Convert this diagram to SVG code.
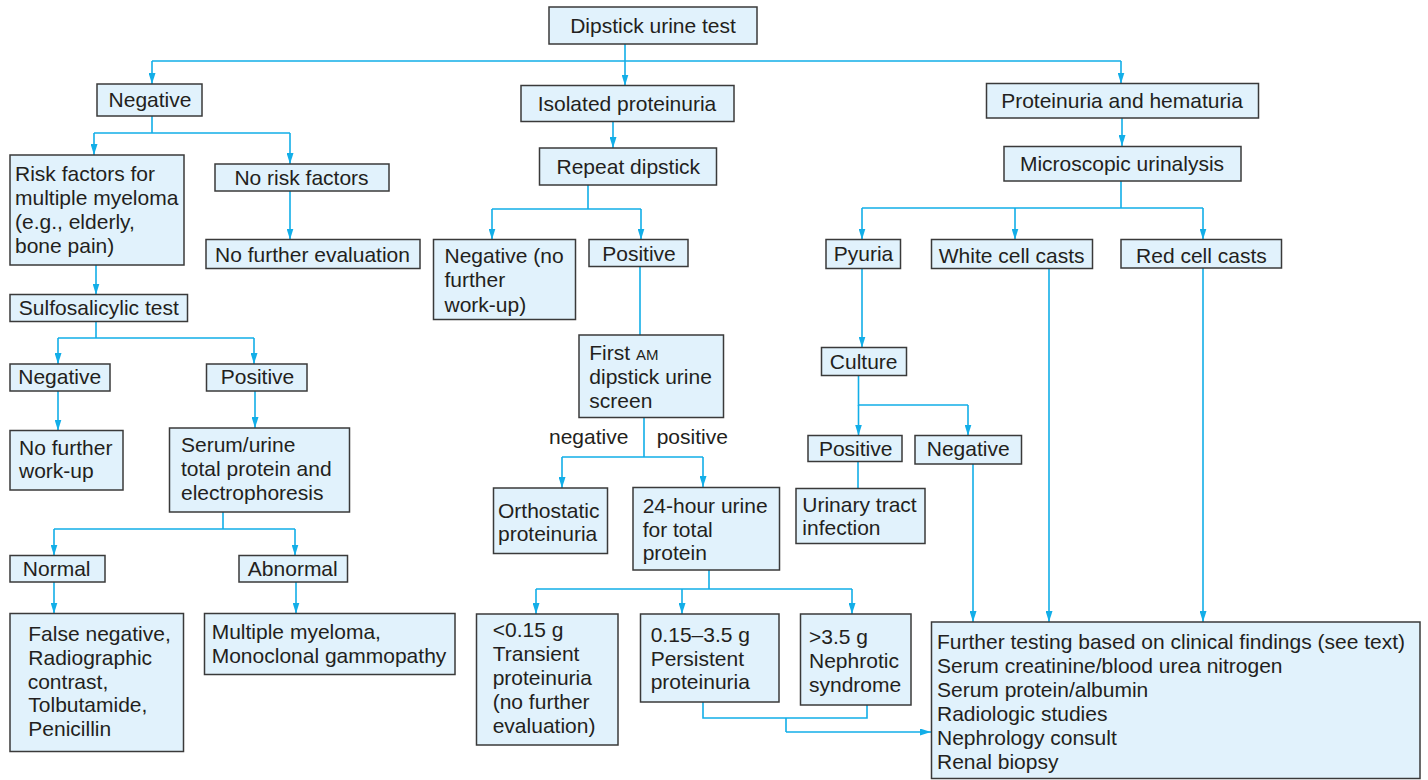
<svg xmlns="http://www.w3.org/2000/svg" width="1428" height="780" viewBox="0 0 1428 780">
<defs>
<marker id="ah" markerUnits="userSpaceOnUse" markerWidth="11" markerHeight="7" refX="11" refY="3.5" orient="auto">
<path d="M0,0 L11,3.5 L0,7 z" fill="#12aee8"/>
</marker>
<style>
.b rect{fill:#e1f2fc;stroke:#3a3a3a;stroke-width:1.5}
text{font-family:"Liberation Sans",Arial,sans-serif;font-size:21px;fill:#231f20}
.c{text-anchor:middle}
.k path{fill:none;stroke:#12aee8;stroke-width:1.6}
.k .a{marker-end:url(#ah)}
</style>
</defs>
<rect width="1428" height="780" fill="#ffffff"/>

<g class="k" id="connectors">
<path d="M625,44 V61 M152,61 H1121"/>
<path class="a" d="M152,61 V84"/>
<path class="a" d="M625,61 V85.5"/>
<path class="a" d="M1121,61 V83.5"/>
<path d="M152,116 V133 M94,133 H290"/>
<path class="a" d="M94,133 V155"/>
<path class="a" d="M290,133 V164"/>
<path class="a" d="M96,265 V294.5"/>
<path class="a" d="M290,191 V239.5"/>
<path d="M96,321 V338 M58,338 H254"/>
<path class="a" d="M58,338 V364"/>
<path class="a" d="M254,338 V364"/>
<path class="a" d="M58,391 V430.5"/>
<path class="a" d="M255,391 V428"/>
<path d="M223,512 V529 M54,529 H295"/>
<path class="a" d="M54,529 V555.5"/>
<path class="a" d="M295,529 V555.5"/>
<path class="a" d="M54,582 V613.5"/>
<path class="a" d="M296,582 V613.5"/>
<path class="a" d="M613,122 V148"/>
<path d="M588,185 V209 M492,209 H641"/>
<path class="a" d="M492,209 V239.5"/>
<path class="a" d="M641,209 V239.5"/>
<path d="M640,266 V335"/>
<path d="M644,418 V457 M562,457 H703"/>
<path class="a" d="M562,457 V488"/>
<path class="a" d="M703,457 V487"/>
<path d="M709,570 V589 M536,589 H852"/>
<path class="a" d="M536,589 V614"/>
<path class="a" d="M682,589 V614"/>
<path class="a" d="M852,589 V614"/>
<path d="M703,702 V718 H867 V705 M786,718 V732"/>
<path class="a" d="M786,732 H931"/>
<path class="a" d="M1122,118 V146"/>
<path d="M1121,181 V208 M862,208 H1203"/>
<path class="a" d="M862,208 V239.5"/>
<path class="a" d="M1015,208 V239.5"/>
<path class="a" d="M1203,208 V239.5"/>
<path class="a" d="M862,269 V347.5"/>
<path d="M858.5,375 V405 H968"/>
<path class="a" d="M858.5,405 V435.5"/>
<path class="a" d="M968,405 V435.5"/>
<path d="M858,461 V488.5"/>
<path class="a" d="M973,464 V622"/>
<path class="a" d="M1049,269 V622"/>
<path class="a" d="M1203,268 V622"/>
</g>

<g id="edge-labels">
<text x="549" y="444.3">negative</text>
<text x="656.7" y="444.3">positive</text>
</g>

<g class="b" id="n-dipstick"><rect x="549" y="7" width="208" height="37"/><text class="c" x="653" y="33">Dipstick urine test</text></g>
<g class="b" id="n-negative"><rect x="97" y="84" width="105" height="32"/><text class="c" x="150" y="107">Negative</text></g>
<g class="b" id="n-isolated"><rect x="521" y="85.5" width="213" height="36"/><text class="c" x="627" y="111">Isolated proteinuria</text></g>
<g class="b" id="n-prothem"><rect x="986.5" y="83.5" width="272" height="34.5"/><text class="c" x="1122" y="108">Proteinuria and hematuria</text></g>
<g class="b" id="n-risk"><rect x="10" y="155" width="174" height="110"/>
<text x="15" y="181">Risk factors for</text><text x="15" y="205">multiple myeloma</text><text x="15" y="229">(e.g., elderly,</text><text x="15" y="253">bone pain)</text></g>
<g class="b" id="n-norisk"><rect x="215" y="164" width="174" height="27"/><text class="c" x="301.5" y="185">No risk factors</text></g>
<g class="b" id="n-nofurthereval"><rect x="206" y="239.5" width="214" height="29"/><text class="c" x="312.5" y="262">No further evaluation</text></g>
<g class="b" id="n-repeat"><rect x="539.5" y="148" width="177" height="37"/><text class="c" x="628.3" y="174">Repeat dipstick</text></g>
<g class="b" id="n-micro"><rect x="1004" y="146.5" width="237" height="34.5"/><text class="c" x="1122" y="170.5">Microscopic urinalysis</text></g>
<g class="b" id="n-negnofurther"><rect x="433.5" y="239.5" width="142" height="80"/>
<text x="444.5" y="263">Negative (no</text><text x="444.5" y="287">further</text><text x="444.5" y="311.5">work-up)</text></g>
<g class="b" id="n-positive"><rect x="589" y="239.5" width="99" height="27"/><text class="c" x="639" y="261">Positive</text></g>
<g class="b" id="n-pyuria"><rect x="826" y="239.5" width="74.5" height="29"/><text class="c" x="863.5" y="261">Pyuria</text></g>
<g class="b" id="n-wcc"><rect x="931.5" y="239.5" width="161" height="29"/><text class="c" x="1011.7" y="263">White cell casts</text></g>
<g class="b" id="n-rcc"><rect x="1121" y="239.5" width="160.5" height="28.5"/><text class="c" x="1201.4" y="262.5">Red cell casts</text></g>
<g class="b" id="n-sulfo"><rect x="10" y="294.5" width="177.5" height="27"/><text class="c" x="98.8" y="315">Sulfosalicylic test</text></g>
<g class="b" id="n-firstam"><rect x="579" y="335" width="144.5" height="82.5"/>
<text x="589.3" y="360">First <tspan font-size="15">AM</tspan></text><text x="589.3" y="384">dipstick urine</text><text x="589.3" y="408">screen</text></g>
<g class="b" id="n-culture"><rect x="821.5" y="347.5" width="85" height="28"/><text class="c" x="863.7" y="369">Culture</text></g>
<g class="b" id="n-sneg"><rect x="10" y="364" width="100" height="27"/><text class="c" x="59.7" y="384">Negative</text></g>
<g class="b" id="n-spos"><rect x="206.5" y="364" width="100.5" height="27"/><text class="c" x="257.5" y="384">Positive</text></g>
<g class="b" id="n-snofurther"><rect x="10" y="430.5" width="113" height="59.5"/>
<text x="19" y="454.5">No further</text><text x="19" y="478">work-up</text></g>
<g class="b" id="n-serum"><rect x="169.5" y="428" width="180" height="84"/>
<text x="181" y="451.5">Serum/urine</text><text x="181" y="475.5">total protein and</text><text x="181" y="499.5">electrophoresis</text></g>
<g class="b" id="n-cpos"><rect x="808" y="435.5" width="94" height="26"/><text class="c" x="855.7" y="456">Positive</text></g>
<g class="b" id="n-cneg"><rect x="915" y="435.5" width="106.5" height="28.5"/><text class="c" x="968.2" y="456">Negative</text></g>
<g class="b" id="n-ortho"><rect x="493.5" y="488" width="114" height="65.5"/>
<text x="498" y="517.5">Orthostatic</text><text x="498" y="541">proteinuria</text></g>
<g class="b" id="n-24h"><rect x="633" y="487.5" width="146.5" height="82.5"/>
<text x="642.7" y="512.5">24-hour urine</text><text x="642.7" y="536.5">for total</text><text x="642.7" y="560">protein</text></g>
<g class="b" id="n-uti"><rect x="796" y="488.5" width="129" height="55"/>
<text x="802.3" y="511.5">Urinary tract</text><text x="802.3" y="535">infection</text></g>
<g class="b" id="n-normal"><rect x="10" y="555.5" width="95" height="26.5"/><text class="c" x="56.7" y="576">Normal</text></g>
<g class="b" id="n-abnormal"><rect x="239" y="555.5" width="108.5" height="26.5"/><text class="c" x="292.8" y="576">Abnormal</text></g>
<g class="b" id="n-falseneg"><rect x="10" y="613.5" width="173.5" height="138"/>
<text x="28.3" y="641">False negative,</text><text x="28.3" y="664.5">Radiographic</text><text x="27.7" y="688.5">contrast,</text><text x="28.3" y="712.3">Tolbutamide,</text><text x="28.3" y="735.7">Penicillin</text></g>
<g class="b" id="n-mm"><rect x="204.5" y="613.5" width="250.5" height="61"/>
<text x="211.7" y="639.3">Multiple myeloma,</text><text x="211.7" y="663.3">Monoclonal gammopathy</text></g>
<g class="b" id="n-lt015"><rect x="476.5" y="614" width="141.5" height="131"/>
<text x="492.7" y="636.7">&lt;0.15 g</text><text x="492.7" y="661">Transient</text><text x="492.7" y="685">proteinuria</text><text x="492.7" y="709">(no further</text><text x="492.7" y="732.7">evaluation)</text></g>
<g class="b" id="n-015-35"><rect x="640.5" y="614" width="138.5" height="88"/>
<text x="650.7" y="642.3">0.15–3.5 g</text><text x="650.7" y="665.7">Persistent</text><text x="650.7" y="689.3">proteinuria</text></g>
<g class="b" id="n-gt35"><rect x="800.5" y="614" width="110.5" height="91"/>
<text x="809" y="644">&gt;3.5 g</text><text x="809" y="667.7">Nephrotic</text><text x="809" y="691.7">syndrome</text></g>
<g class="b" id="n-further"><rect x="931.5" y="622" width="488.5" height="156.5"/>
<text x="937" y="649.3">Further testing based on clinical findings (see text)</text><text x="937" y="672.7">Serum creatinine/blood urea nitrogen</text><text x="937" y="697.3">Serum protein/albumin</text><text x="937" y="720.7">Radiologic studies</text><text x="937" y="745">Nephrology consult</text><text x="937" y="769.3">Renal biopsy</text></g>
</svg>
